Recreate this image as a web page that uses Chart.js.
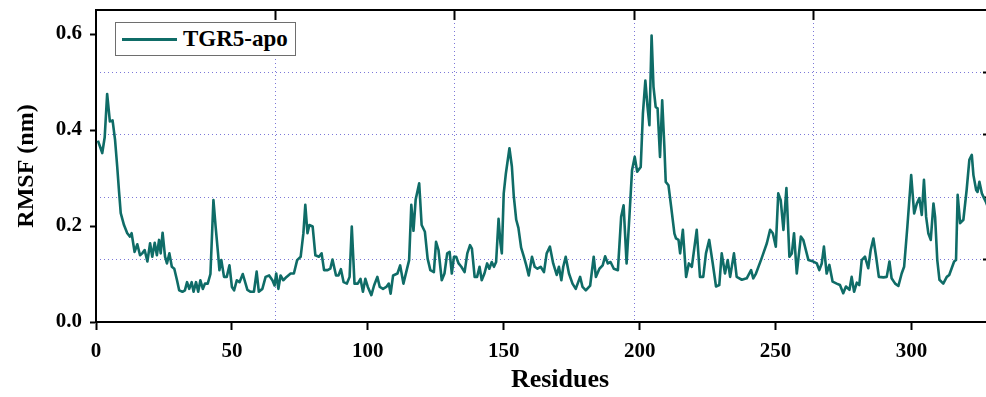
<!DOCTYPE html>
<html>
<head>
<meta charset="utf-8">
<script src="https://cdn.jsdelivr.net/npm/chart.js@4.4.1/dist/chart.umd.min.js"></script>
<style>
  html, body { margin: 0; padding: 0; background: #fff; overflow: hidden; }
  #wrap { position: relative; width: 986px; height: 397px; overflow: hidden; }
  #chart { position: absolute; left: 0; top: 0; }
  #legend {
    position: absolute; left: 115px; top: 22px; width: 179px; height: 32px;
    border: 1px solid #6e6e6e; background: #fff;
    display: flex; align-items: center;
  }
  #legend .swatch { display: inline-block; width: 55px; height: 3px; background: #0f6c67; margin: 0 6px 0 6px; }
  #legend .label { font: bold 23px "Liberation Serif", "Times New Roman", serif; color: #000; }
</style>
</head>
<body>
<div id="wrap">
  <canvas id="chart" width="1000" height="397"></canvas>
  <div id="legend"><span class="swatch"></span><span class="label">TGR5-apo</span></div>
</div>
<script>
const seriesName = 'TGR5-apo';

const residues = [
  0.7, 1.5, 2.3, 3.2, 4.1, 5.1, 6.1, 7.0, 7.8, 8.5, 9.1, 10.3, 11.5, 12.5, 13.1, 14.2, 15.2, 16.2, 17.0, 17.9,
  18.9, 19.9, 20.7, 21.6, 22.4, 23.2, 23.8, 24.5, 25.4, 26.1, 27.0, 27.9, 28.8, 29.8, 30.6, 31.8, 32.7, 33.5, 34.3, 35.2,
  35.9, 36.8, 37.6, 38.4, 39.3, 40.1, 41.1, 42.1, 43.2, 44.0, 44.9, 45.4, 46.1, 47.1, 48.1, 49.1, 50.0, 50.8, 51.8, 52.8,
  54.0, 55.7, 56.9, 58.1, 59.1, 59.9, 61.2, 62.4, 63.7, 64.9, 65.7, 66.3, 67.1, 67.9, 68.9, 70.1, 71.6, 72.8, 74.0, 75.3,
  76.3, 77.0, 77.8, 78.5, 79.7, 80.7, 82.0, 83.0, 83.9, 85.2, 86.2, 87.0, 88.3, 89.2, 90.1, 91.1, 92.3, 93.3, 94.1, 95.1,
  96.3, 97.3, 98.2, 99.1, 100.0, 101.3, 102.3, 103.5, 104.4, 105.6, 106.8, 107.7, 108.4, 109.3, 110.9, 111.9, 113.1, 114.3, 115.2, 116.0,
  116.8, 117.6, 118.9, 119.8, 121.0, 122.0, 123.0, 124.3, 125.1, 126.0, 127.2, 128.2, 129.2, 130.1, 130.9, 131.7, 132.5, 133.4, 134.4, 135.6,
  136.6, 137.6, 138.3, 139.3, 140.2, 141.1, 141.9, 142.9, 143.9, 144.7, 145.6, 146.4, 147.2, 148.1, 148.8, 149.3, 150.0, 150.8, 152.1, 153.0,
  153.7, 154.6, 155.4, 156.4, 157.4, 158.3, 159.2, 160.4, 161.4, 162.4, 163.6, 164.8, 165.8, 167.0, 168.2, 169.5, 170.3, 171.2, 171.9, 172.8,
  174.0, 175.3, 176.5, 178.1, 179.0, 180.2, 181.8, 183.1, 183.9, 185.2, 186.4, 187.3, 188.3, 189.3, 190.5, 192.0, 193.2, 194.1, 195.2, 196.3,
  197.2, 198.2, 199.1, 200.4, 201.2, 202.1, 202.9, 203.6, 204.4, 205.1, 205.9, 206.6, 207.5, 208.3, 209.1, 209.6, 210.6, 211.6, 212.8, 213.4,
  214.3, 214.9, 215.9, 217.1, 218.1, 219.2, 221.0, 222.2, 223.4, 224.4, 225.6, 226.9, 228.1, 229.3, 230.2, 231.4, 232.4, 233.3, 234.7, 235.7,
  237.6, 239.4, 241.0, 241.8, 242.8, 244.9, 246.8, 248.0, 249.0, 250.1, 251.0, 251.9, 252.9, 254.0, 255.1, 256.0, 256.8, 257.8, 259.3, 260.2,
  262.1, 263.9, 265.2, 266.1, 267.0, 267.8, 268.8, 269.8, 271.0, 272.5, 273.7, 274.9, 275.9, 277.2, 278.0, 278.9, 279.9, 280.8, 281.7, 282.9,
  284.1, 285.0, 286.0, 287.0, 288.0, 289.7, 290.9, 291.9, 292.7, 294.0, 295.2, 296.4, 297.3, 298.5, 299.9, 301.0, 302.0, 302.9, 303.8, 304.6,
  305.4, 306.2, 307.1, 308.1, 308.7, 309.5, 310.3, 311.7, 313.0, 313.9, 314.8, 315.7, 316.4, 317.0, 317.9, 319.1, 320.3, 321.3, 322.2, 322.8,
  323.8, 324.3, 325.0, 325.9, 326.7, 327.4, 328.2
];

const rmsf = [
  0.378, 0.365, 0.352, 0.385, 0.475, 0.418, 0.420, 0.380, 0.324, 0.270, 0.227, 0.202, 0.185, 0.178, 0.185, 0.146, 0.162, 0.139, 0.143, 0.150,
  0.126, 0.164, 0.136, 0.165, 0.139, 0.171, 0.143, 0.186, 0.136, 0.122, 0.143, 0.115, 0.111, 0.087, 0.066, 0.063, 0.066, 0.083, 0.069, 0.083,
  0.063, 0.083, 0.063, 0.087, 0.069, 0.080, 0.080, 0.100, 0.254, 0.199, 0.143, 0.108, 0.129, 0.094, 0.094, 0.118, 0.073, 0.066, 0.087, 0.083,
  0.100, 0.067, 0.063, 0.063, 0.105, 0.063, 0.069, 0.094, 0.097, 0.087, 0.076, 0.101, 0.069, 0.097, 0.087, 0.094, 0.101, 0.101, 0.129, 0.136,
  0.185, 0.244, 0.185, 0.202, 0.199, 0.139, 0.136, 0.143, 0.108, 0.108, 0.111, 0.130, 0.097, 0.097, 0.110, 0.083, 0.080, 0.094, 0.199, 0.080,
  0.080, 0.090, 0.063, 0.090, 0.073, 0.056, 0.076, 0.094, 0.073, 0.069, 0.073, 0.080, 0.059, 0.097, 0.101, 0.118, 0.080, 0.108, 0.129, 0.244,
  0.190, 0.255, 0.289, 0.202, 0.188, 0.132, 0.108, 0.104, 0.167, 0.150, 0.087, 0.101, 0.143, 0.146, 0.101, 0.136, 0.136, 0.122, 0.115, 0.104,
  0.143, 0.160, 0.153, 0.094, 0.094, 0.115, 0.087, 0.101, 0.122, 0.111, 0.125, 0.115, 0.125, 0.215, 0.164, 0.143, 0.268, 0.310, 0.362, 0.324,
  0.262, 0.213, 0.196, 0.155, 0.136, 0.118, 0.097, 0.136, 0.115, 0.111, 0.115, 0.104, 0.143, 0.157, 0.122, 0.098, 0.115, 0.087, 0.115, 0.136,
  0.101, 0.080, 0.069, 0.094, 0.073, 0.066, 0.076, 0.136, 0.094, 0.111, 0.118, 0.137, 0.122, 0.125, 0.111, 0.108, 0.219, 0.243, 0.122, 0.226,
  0.316, 0.344, 0.313, 0.323, 0.434, 0.503, 0.448, 0.410, 0.597, 0.490, 0.448, 0.445, 0.344, 0.462, 0.365, 0.292, 0.285, 0.240, 0.184, 0.174,
  0.171, 0.143, 0.192, 0.094, 0.122, 0.115, 0.192, 0.094, 0.094, 0.143, 0.171, 0.122, 0.074, 0.077, 0.143, 0.101, 0.129, 0.094, 0.143, 0.094,
  0.088, 0.091, 0.108, 0.091, 0.101, 0.133, 0.164, 0.192, 0.185, 0.157, 0.268, 0.254, 0.192, 0.279, 0.136, 0.143, 0.185, 0.101, 0.178, 0.171,
  0.129, 0.126, 0.122, 0.108, 0.122, 0.157, 0.101, 0.119, 0.084, 0.080, 0.077, 0.060, 0.074, 0.067, 0.094, 0.063, 0.082, 0.077, 0.129, 0.136,
  0.112, 0.150, 0.174, 0.136, 0.094, 0.093, 0.094, 0.126, 0.091, 0.080, 0.075, 0.101, 0.115, 0.199, 0.306, 0.226, 0.247, 0.258, 0.223, 0.296,
  0.219, 0.185, 0.171, 0.247, 0.219, 0.129, 0.088, 0.080, 0.094, 0.098, 0.112, 0.126, 0.129, 0.265, 0.206, 0.213, 0.275, 0.338, 0.348, 0.306,
  0.275, 0.271, 0.292, 0.268, 0.258, 0.250, 0.238
];

const xTicks = [0, 50, 100, 150, 200, 250, 300];
const yTicks = [0, 0.2, 0.4, 0.6];
const xGrid = [66, 132, 198, 264, 330];
const yGrid = [0.13, 0.26, 0.39, 0.52];

const serif = '"Liberation Serif", "Times New Roman", serif';
const lineColor = '#0f6c67';
const gridColor = '#7c78d8';

const xTitle = {
  id: 'xTitle',
  afterDraw(chart) {
    const ctx = chart.ctx;
    ctx.save();
    ctx.font = 'bold 26px ' + serif;
    ctx.fillStyle = '#000';
    ctx.textAlign = 'center';
    ctx.textBaseline = 'middle';
    ctx.fillText('Residues', 560, 380);
    ctx.restore();
  }
};

new Chart(document.getElementById('chart'), {
  type: 'line',
  data: {
    datasets: [{
      label: seriesName,
      data: residues.map((r, i) => ({ x: r, y: rmsf[i] })),
      borderColor: lineColor,
      borderWidth: 2.6,
      borderJoinStyle: 'round',
      pointRadius: 0,
      tension: 0,
      fill: false,
      xAxisID: 'x',
      yAxisID: 'y'
    }]
  },
  plugins: [xTitle],
  options: {
    responsive: false,
    devicePixelRatio: 1,
    animation: false,
    layout: { padding: 0 },
    plugins: { legend: { display: false }, tooltip: { enabled: false } },
    scales: {
      x: {
        type: 'linear', position: 'bottom', min: 0, max: 330,
        afterBuildTicks: s => { s.ticks = xTicks.map(v => ({ value: v })); },
        afterFit: s => { s.height = 75; s.paddingLeft = 0; s.paddingRight = 0; },
        ticks: { color: '#000', padding: 9, maxRotation: 0, font: { family: serif, size: 21, weight: 'bold' } },
        grid: { drawOnChartArea: false, tickLength: 8, tickWidth: 2, tickColor: '#000' },
        border: { color: '#000', width: 2 }
      },
      x2: {
        type: 'linear', position: 'top', min: 0, max: 330,
        afterBuildTicks: s => { s.ticks = xGrid.map(v => ({ value: v })); },
        afterFit: s => { s.height = 10; },
        ticks: { display: false },
        grid: { color: gridColor, lineWidth: 1, tickLength: -10, tickWidth: 2, tickColor: '#000' },
        border: { color: '#000', width: 2, dash: [1, 3] }
      },
      y: {
        type: 'linear', position: 'left', min: 0, max: 0.65,
        afterBuildTicks: s => { s.ticks = yTicks.map(v => ({ value: v })); },
        afterFit: s => { s.width = 96; s.paddingTop = 0; s.paddingBottom = 0; },
        ticks: { color: '#000', padding: 8, callback: v => v.toFixed(1), font: { family: serif, size: 21, weight: 'bold' } },
        grid: { drawOnChartArea: false, tickLength: 6, tickWidth: 2, tickColor: '#000' },
        border: { color: '#000', width: 2 },
        title: { display: true, text: 'RMSF (nm)', color: '#000', padding: { top: 12, bottom: 0 }, font: { family: serif, size: 24, weight: 'bold' } }
      },
      y2: {
        type: 'linear', position: 'right', min: 0, max: 0.65,
        afterBuildTicks: s => { s.ticks = yGrid.map(v => ({ value: v })); },
        afterFit: s => { s.width = 7; s.paddingTop = 0; s.paddingBottom = 0; },
        ticks: { display: false },
        grid: { color: gridColor, lineWidth: 1, tickLength: -10, tickWidth: 2, tickColor: '#000' },
        border: { color: '#000', width: 2, dash: [1, 3] }
      }
    }
  }
});
</script>
</body>
</html>
